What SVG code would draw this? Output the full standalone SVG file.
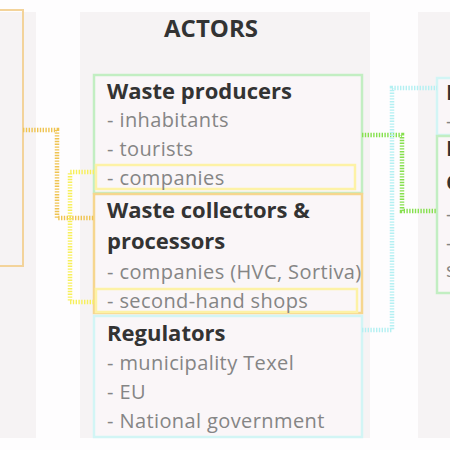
<svg xmlns="http://www.w3.org/2000/svg" width="450" height="450" viewBox="0 0 450 450">
<defs>
<style>
.panel{fill:#f6f3f4;}
.box{fill:#faf6f8;stroke-width:2.5;}
.hl{fill:none;stroke:#fdf2a6;stroke-width:2.5;}
.h{font-family:"Open Sans","Liberation Sans",sans-serif;font-weight:bold;font-size:22px;fill:#333;}
.t{font-family:"Open Sans","Liberation Sans",sans-serif;font-size:20px;letter-spacing:0.4px;fill:#858585;}
.c{fill:none;stroke-width:4.5;stroke-dasharray:1.4 1.4;}
</style>
</defs>
<rect width="450" height="450" fill="#fefdfe"/>
<rect class="panel" x="0" y="12" width="36" height="426"/>
<rect class="panel" x="80" y="12" width="290" height="426"/>
<rect class="panel" x="418" y="12" width="40" height="426"/>
<text class="h" x="211" y="37" text-anchor="middle" style="font-size:24px">ACTORS</text>
<g id="left-box">
<rect x="-5" y="10" width="28" height="256" fill="none" stroke="#f3d39a" stroke-width="2"/>
</g>
<g id="waste-producers">
<rect class="box" x="94" y="75" width="268" height="118" stroke="#c2eec2"/>
<rect class="hl" x="96" y="165" width="259" height="24"/>
<text class="h" x="107" y="99">Waste producers</text>
<text class="t" x="107" y="127">- inhabitants</text>
<text class="t" x="107" y="156">- tourists</text>
<text class="t" x="107" y="185">- companies</text>
</g>
<g id="waste-collectors">
<rect class="box" x="94" y="194" width="268" height="119" stroke="#f6d68e"/>
<rect class="hl" x="96" y="289" width="261" height="23"/>
<text class="h" x="107" y="218">Waste collectors &amp;</text>
<text class="h" x="107" y="249">processors</text>
<text class="t" x="107" y="279">- companies (HVC, Sortiva)</text>
<text class="t" x="107" y="308">- second-hand shops</text>
</g>
<g id="regulators">
<rect class="box" x="94" y="316" width="268" height="121" stroke="#d2f5f5"/>
<text class="h" x="107" y="341">Regulators</text>
<text class="t" x="107" y="370">- municipality Texel</text>
<text class="t" x="107" y="399">- EU</text>
<text class="t" x="107" y="428">- National government</text>
</g>
<g id="right-box-1">
<rect class="box" x="437" y="78" width="30" height="57" stroke="#d2f5f5"/>
<text class="h" x="446" y="100">F</text>
<text class="t" x="446" y="128">-</text>
</g>
<g id="right-box-2">
<rect class="box" x="437" y="136" width="30" height="157" stroke="#c2eec2"/>
<text class="h" x="446" y="156">I</text>
<text class="h" x="446" y="190">C</text>
<text class="t" x="446" y="221">-</text>
<text class="t" x="446" y="250">-</text>
<text class="t" x="446" y="277">s</text>
</g>
<g id="connectors">
<path class="c" d="M23,130 H57 V218 H94" stroke="#efc451"/>
<path class="c" d="M94,172 H70 V302 H94" stroke="#f7f05a"/>
<path class="c" d="M362,135 H402 V211 H437" stroke="#86e04e"/>
<path class="c" d="M362,330 H392 V88 H437" stroke="#b4f0f2"/>
</g>
</svg>
